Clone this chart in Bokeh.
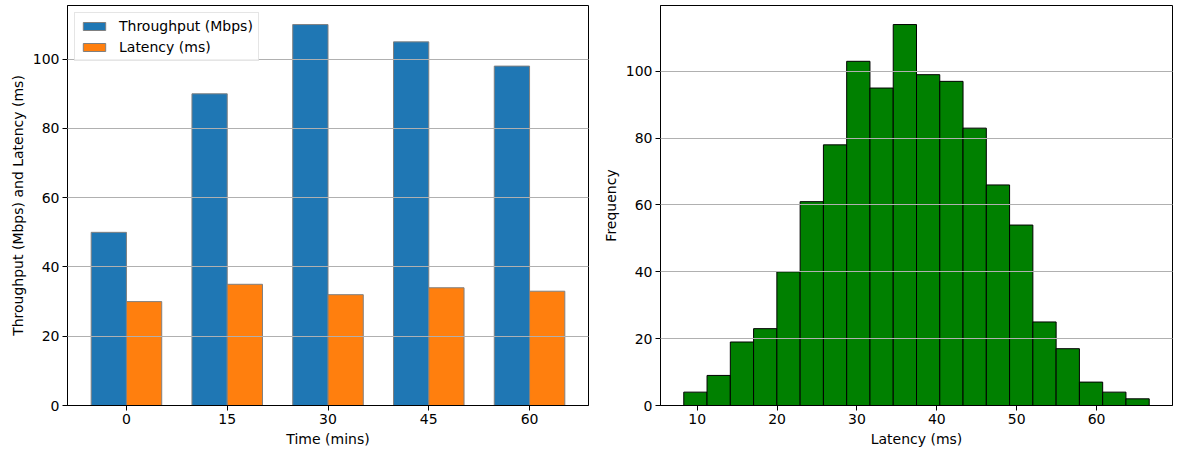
import numpy as np
from bokeh.plotting import figure
from bokeh.layouts import row
from bokeh.models import Range1d, FixedTicker, Legend, LegendItem
from bokeh.embed import file_html
from bokeh.resources import INLINE

# ---------------- data ----------------
times = [0, 15, 30, 45, 60]
throughput = [50, 90, 110, 105, 98]
latency = [30, 35, 32, 34, 33]

hist_counts = [4, 9, 19, 23, 40, 61, 78, 103, 95, 114, 99, 97, 83, 66, 54, 25, 17, 7, 4, 2]
hist_min = 8.32
hist_max = 66.59

FONT = "DejaVu Sans"
FS = "14px"


def style(p):
    p.outline_line_color = "black"
    p.outline_line_alpha = 1
    p.outline_line_width = 1
    p.background_fill_color = "white"
    p.border_fill_color = "white"
    for ax in (p.xaxis, p.yaxis):
        ax.axis_line_color = "black"
        ax.major_tick_line_color = "black"
        ax.major_tick_out = 5
        ax.major_tick_in = 0
        ax.minor_tick_line_color = None
        ax.major_label_text_font = FONT
        ax.major_label_text_font_size = FS
        ax.major_label_text_color = "black"
        ax.axis_label_text_font = FONT
        ax.axis_label_text_font_size = FS
        ax.axis_label_text_font_style = "normal"
        ax.axis_label_text_color = "black"
        ax.major_label_standoff = 3
        ax.axis_label_standoff = 4
    p.xgrid.grid_line_color = None
    p.ygrid.grid_line_color = "#b0b0b0"
    p.ygrid.grid_line_width = 1
    p.ygrid.level = "annotation"


H = 449

# ---------------- left: grouped bars ----------------
w = 0.35
idx = np.arange(len(times))
p1 = figure(width=599, height=H, output_backend="svg", toolbar_location=None,
            x_range=Range1d(-0.585, len(times) - 1 + 0.585), y_range=Range1d(0, max(throughput) * 1.05),
            min_border_left=67, min_border_right=11, min_border_top=5, min_border_bottom=44)
r1 = p1.vbar(x=idx - w / 2, top=throughput, width=w, bottom=0,
             fill_color="#1f77b4", line_color="grey", line_width=1)
r2 = p1.vbar(x=idx + w / 2, top=latency, width=w, bottom=0,
             fill_color="#ff7f0e", line_color="grey", line_width=1)
style(p1)
p1.xaxis.ticker = FixedTicker(ticks=list(idx))
p1.xaxis.major_label_overrides = {int(i): str(t) for i, t in zip(idx, times)}
p1.yaxis.ticker = FixedTicker(ticks=[0, 20, 40, 60, 80, 100])
p1.xaxis.axis_label = "Time (mins)"
p1.yaxis.axis_label = "Throughput (Mbps) and Latency (ms)"

legend = Legend(items=[LegendItem(label="Throughput (Mbps)", renderers=[r1]),
                       LegendItem(label="Latency (ms)", renderers=[r2])],
                location="top_left")
legend.label_text_font = FONT
legend.label_text_font_size = FS
legend.label_text_color = "black"
legend.glyph_width = 28
legend.glyph_height = 10
legend.label_height = 16
legend.spacing = 5
legend.padding = 5
legend.margin = 7
legend.label_standoff = 11
legend.border_line_color = "#cccccc"
legend.border_line_width = 1
legend.background_fill_alpha = 0.8
p1.add_layout(legend)

# ---------------- right: histogram ----------------
edges = np.linspace(hist_min, hist_max, len(hist_counts) + 1)
span = hist_max - hist_min
p2 = figure(width=574, height=H, output_backend="svg", toolbar_location=None,
            x_range=Range1d(hist_min - 0.05 * span, hist_max + 0.05 * span),
            y_range=Range1d(0, max(hist_counts) * 1.05),
            min_border_left=59, min_border_right=1, min_border_top=5, min_border_bottom=44)
p2.quad(left=edges[:-1], right=edges[1:], bottom=0, top=hist_counts,
        fill_color="green", line_color="black", line_width=1)
style(p2)
p2.xaxis.ticker = FixedTicker(ticks=[10, 20, 30, 40, 50, 60])
p2.yaxis.ticker = FixedTicker(ticks=[0, 20, 40, 60, 80, 100])
p2.xaxis.axis_label = "Latency (ms)"
p2.yaxis.axis_label = "Frequency"

layout = row(p1, p2)
open("out.html", "w").write(file_html(layout, INLINE))
